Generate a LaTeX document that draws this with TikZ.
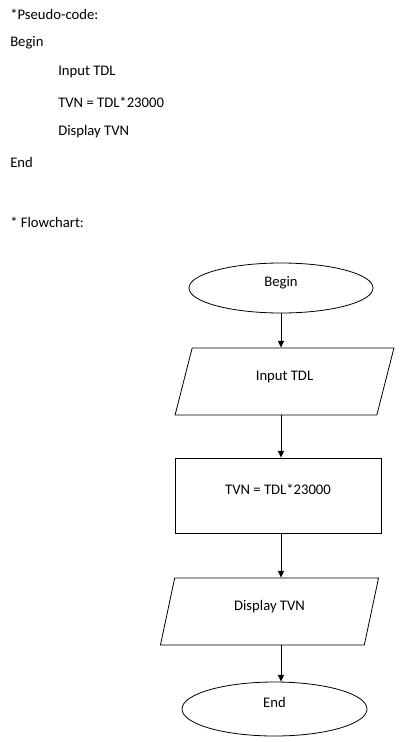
\documentclass[tikz,border=0pt]{standalone}
\usepackage{fontspec}
\setmainfont{Carlito}
\usetikzlibrary{shapes.geometric,arrows.meta}
\tikzset{
  flowline/.style={line width=0.75pt,-{Triangle[length=5pt,width=4.5pt]}},
  boxtext/.style={text height=7pt,text depth=9pt},
  terminal/.style={draw,ellipse,line width=0.6pt,inner sep=0pt,boxtext},
  ioblock/.style={draw,trapezium,trapezium left angle=76,trapezium right angle=104,
    trapezium stretches=true,line width=0.6pt,inner sep=0pt,boxtext},
  procblock/.style={draw,rectangle,line width=0.6pt,inner sep=0pt,boxtext},
  codeline/.style={anchor=west,inner sep=0pt}
}
\begin{document}
\begin{tikzpicture}[x=0.75pt,y=-0.75pt,font=\fontsize{11}{13}\selectfont]
    \useasboundingbox (0,0) rectangle (416,742);
    %% pseudo-code
    \node[codeline] (pcode) at (10,14) {*Pseudo-code:};
    \node[codeline] (pbegin) at (10,43) {Begin};
    \node[codeline] (pinput) at (58,72) {Input TDL};
    \node[codeline] (pcalc) at (58,102) {TVN = TDL*23000};
    \node[codeline] (pshow) at (58,132) {Display TVN};
    \node[codeline] (pend) at (10,162) {End};
    \node[codeline] (pflow) at (10,222) {* Flowchart:};
    %% flowchart
    \node[terminal,minimum width=138pt,minimum height=37.5pt] (begin) at (281,288) {Begin};
    \node[ioblock,minimum width=164.25pt,minimum height=50.25pt] (input) at (284.5,381.5) {Input TDL};
    \node[procblock,minimum width=154.5pt,minimum height=56.25pt] (calc) at (278,495.5) {TVN = TDL*23000};
    \node[ioblock,minimum width=164.25pt,minimum height=50.25pt] (show) at (269.5,611.5) {Display TVN};
    \node[terminal,minimum width=138.75pt,minimum height=40.5pt] (end) at (274.5,709) {End};
    %% arrows
    \draw[flowline] (begin.south) -- (begin.south |- input.north);
    \draw[flowline] (input.south -| begin.south) -- (begin.south |- calc.north);
    \draw[flowline] (calc.south -| begin.south) -- (begin.south |- show.north);
    \draw[flowline] (show.south -| begin.south) -- (begin.south |- end.north);
\end{tikzpicture}
\end{document}
